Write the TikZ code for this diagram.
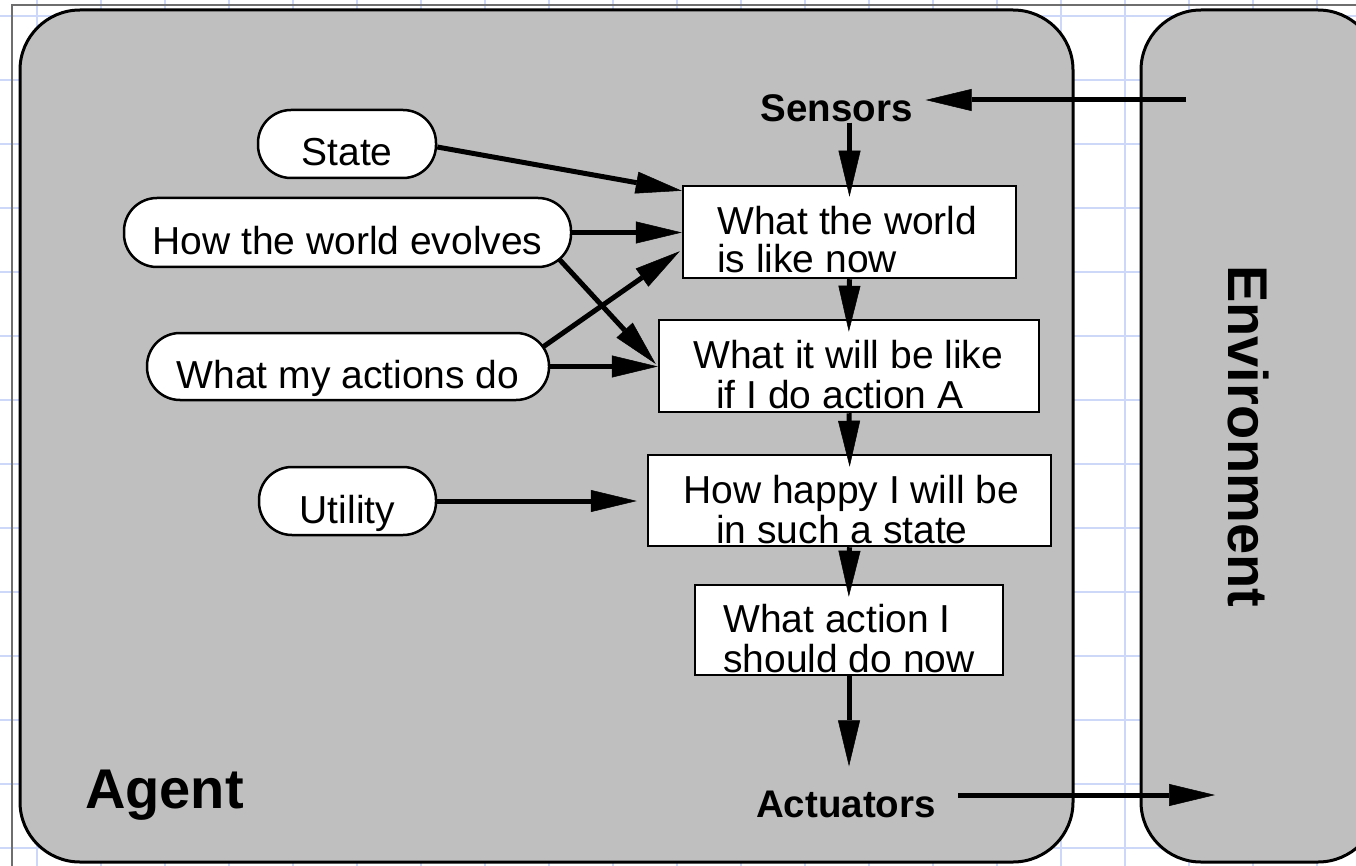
\documentclass[tikz,border=0pt]{standalone}
\usepackage{fontspec}
\setmainfont{Liberation Sans}
\usetikzlibrary{arrows.meta,calc}
\definecolor{panelgray}{RGB}{191,191,191}
\definecolor{gridblue}{RGB}{205,215,248}
\definecolor{framegray}{RGB}{110,110,110}

\begin{document}
\begin{tikzpicture}[x=1pt,y=-1pt,
  gridline/.style={draw=gridblue,line width=2pt},
  panel/.style={draw=black,line width=3pt,fill=panelgray,rounded corners=60pt},
  pill/.style={draw=black,line width=2.5pt,fill=white,rounded corners=33pt,
    rectangle,inner sep=0pt,text height=47pt,text depth=3pt,
    font=\fontsize{39}{40}\selectfont},
  stepbox/.style={draw=black,line width=2.5pt,fill=white,rectangle,inner sep=0pt},
  boxline/.style={anchor=base west,inner sep=0pt,font=\fontsize{39}{40}\selectfont},
  portname/.style={inner sep=0pt,font=\fontsize{38.5}{40}\selectfont\bfseries},
  flow/.style={line width=5pt,-{Triangle[length=46pt,width=22pt,line width=0.5pt]}},
]
% canvas
\useasboundingbox (0,0) rectangle (1356,866);
\clip (0,0) rectangle (1356,866);
\fill[white] (0,0) rectangle (1356,866);

% background grid
\foreach \gx in {37,101,...,1317} \draw[gridline] (\gx,0) -- (\gx,866);
\foreach \gy in {16,80,...,848} \draw[gridline] (0,\gy) -- (1356,\gy);
\draw[framegray,line width=1.5pt] (12,866) -- (12,5) -- (1356,5);

% agent and environment panels
\draw[panel] (20,10) rectangle (1073,862);
\draw[panel] (1141,10) rectangle (1378,862);

% knowledge sources
\node[pill,minimum width=178pt,minimum height=68pt] (state) at (347,144) {State};
\node[pill,minimum width=447pt,minimum height=69pt] (how) at (347.5,232.5) {How the world evolves};
\node[pill,minimum width=402pt,minimum height=67pt] (what) at (348,366.5) {What my actions do};
\node[pill,minimum width=177pt,minimum height=68pt] (util) at (347.5,501) {Utility};

% reasoning chain
\node[stepbox,minimum width=333pt,minimum height=92pt] (b1) at (849.5,232) {};
\node[stepbox,minimum width=380pt,minimum height=92pt] (b2) at (849,366) {};
\node[stepbox,minimum width=403pt,minimum height=91pt] (b3) at (849.5,500.5) {};
\node[stepbox,minimum width=308pt,minimum height=90pt] (b4) at (849,630) {};

\node[boxline] (b1a) at (717,235) {What the world};
\node[boxline] (b1b) at (717,273) {is like now};
\node[boxline] (b2a) at (693,368) {What it will be like};
\node[boxline] (b2b) at (716,408) {if I do action A};
\node[boxline] (b3a) at (683,503) {How happy I will be};
\node[boxline] (b3b) at (716,543) {in such a state};
\node[boxline] (b4a) at (723,632) {What action I};
\node[boxline] (b4b) at (723,672) {should do now};

% ports and panel titles
\node[portname,anchor=base] (sens) at (836.5,122) {Sensors};
\node[portname,anchor=base] (act) at (846,817) {Actuators};
\node[anchor=base west,inner sep=0pt,font=\fontsize{56}{60}\selectfont\bfseries]
  (agent) at (85,808) {Agent};
\node[anchor=base west,inner sep=0pt,rotate=-90,font=\fontsize{56}{60}\selectfont\bfseries]
  (env) at (1228,265) {Environment};

\coordinate (envin) at (1186,100);
\coordinate (envout) at (1215,795);

% percepts in, actions out
\draw[flow,shorten >=13pt] (envin) -- (envin -| sens.east);
\draw[flow,shorten >=-12pt] (sens.south -| b1.north) -- (b1.north);
\draw[flow,shorten >=-13pt] (b1.south) -- (b2.north);
\draw[flow,shorten >=-13pt] (b2.south) -- (b3.north);
\draw[flow,shorten >=-13pt] (b3.south) -- (b4.north);
\draw[flow,shorten >=24pt] (b4.south) -- (b4.south |- act.north);
\draw[flow,shorten <=22pt] (act.east |- envout) -- (envout);

% knowledge feeding the chain
\draw[flow] ($(state.east)+(0,3)$) -- ($(b1.north west)+(0,6)$);
\draw[flow] (how.east) -- (how.east -| b1.west);
\draw[flow] ($(how.south east)+(-13,-9)$) -- ($(b2.west)+(-2,-2)$);
\draw[flow] ($(what.north east)+(-7,15)$) -- ($(b1.south west)+(-2,-28)$);
\draw[flow] (what.east) -- (what.east -| b2.west);
\draw[flow,shorten >=10pt] (util.east) -- (util.east -| b3.west);
\end{tikzpicture}
\end{document}
